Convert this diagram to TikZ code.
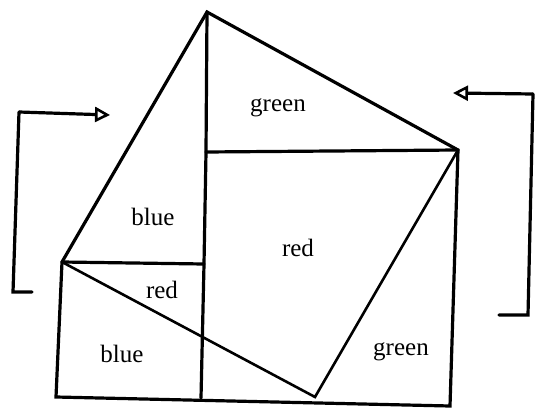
\documentclass[tikz,border=0pt]{standalone}
\usepackage{fontspec}
\setmainfont{Liberation Serif}
\usetikzlibrary{arrows.meta}
\tikzset{
  edge/.style  = {line width=3.2pt, line join=miter, line cap=round},
  thin/.style  = {line width=2.6pt, line cap=round},
  turn/.style  = {line width=3.2pt, -{Triangle[open, length=15pt, width=15pt, line width=2.6pt]}},
  lbl/.style   = {font=\fontsize{25}{27}\selectfont}
}
\begin{document}
\begin{tikzpicture}[x=1pt, y=-1pt]
  \useasboundingbox (0,0) rectangle (535,409);
  % corners of the figure
  \coordinate (top)  at (207,12);
  \coordinate (rgt)  at (458,150);
  \coordinate (lft)  at (62,262);
  \coordinate (mtop) at (206,152);
  \coordinate (mlft) at (204,264);
  \coordinate (bot)  at (315,397);
  \coordinate (bl)   at (56,397);
  \coordinate (bm)   at (201,398);
  \coordinate (br)   at (450,406);
  % outline and cuts
  \draw[edge] (lft) -- (top) -- (rgt) -- (br) -- (bl) -- cycle;
  \draw[edge] (top) -- (mtop) -- (mlft) -- (bm);
  \draw[edge] (mtop) -- (rgt);
  \draw[edge] (lft) -- (mlft);
  \draw[thin] (lft) -- (bot) -- (rgt);
  % turning arrows
  \coordinate (la) at (13,292);
  \coordinate (lb) at (19,112);
  \coordinate (lc) at (110,115);
  \coordinate (lf) at (32,292);
  \draw[edge] (lf) -- (la) -- (lb);
  \draw[turn] (lb) -- (lc);
  \coordinate (ra) at (528,315);
  \coordinate (rb) at (533,94);
  \coordinate (rc) at (453,93);
  \coordinate (rf) at (499,315);
  \draw[edge] (rf) -- (ra) -- (rb);
  \draw[turn] (rb) -- (rc);
  % colour names
  \node[lbl] (g1) at (278,108) {green};
  \node[lbl] (b1) at (153,217) {blue};
  \node[lbl] (r1) at (298,248) {red};
  \node[lbl] (r2) at (162,290) {red};
  \node[lbl] (b2) at (122,354) {blue};
  \node[lbl] (g2) at (401,352) {green};
\end{tikzpicture}
\end{document}
